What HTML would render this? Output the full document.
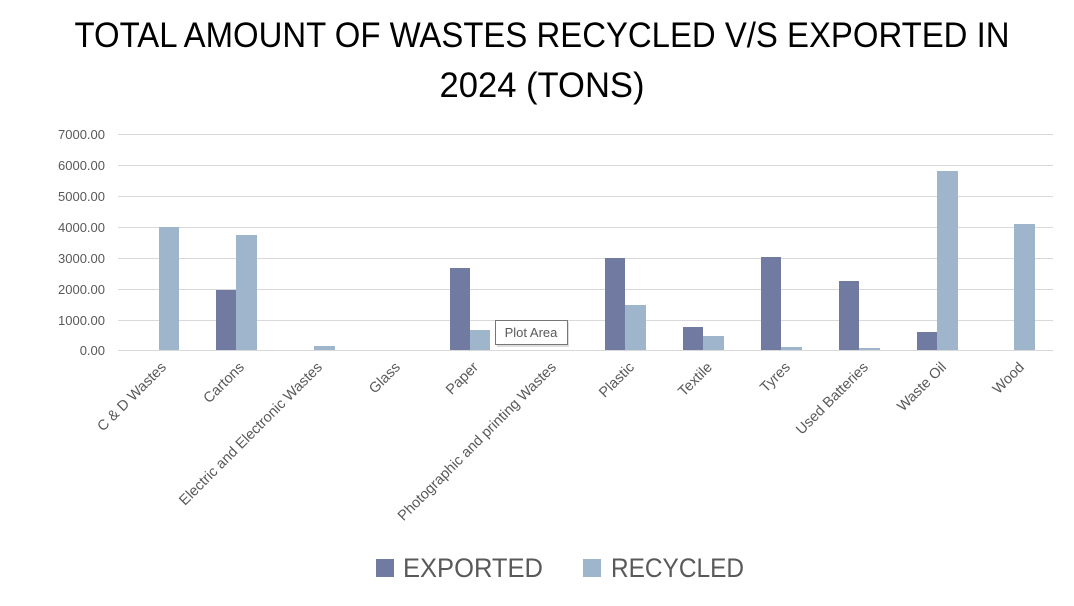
<!DOCTYPE html>
<html><head><meta charset="utf-8"><style>
html,body{margin:0;padding:0;background:#fff;}
svg{display:block;}
</style></head><body>
<svg width="1074" height="606" xmlns="http://www.w3.org/2000/svg" font-family="'Liberation Sans', sans-serif">
<rect width="1074" height="606" fill="#fff"/>
<text x="542" y="47" font-size="35" text-anchor="middle" textLength="935" lengthAdjust="spacingAndGlyphs" fill="#000">TOTAL AMOUNT OF WASTES RECYCLED V/S EXPORTED IN</text>
<text x="542" y="97" font-size="35" text-anchor="middle" textLength="205" lengthAdjust="spacingAndGlyphs" fill="#000">2024 (TONS)</text>
<g stroke="#d9d9d9" stroke-width="1">
<line x1="118" x2="1053" y1="134.5" y2="134.5"/>
<line x1="118" x2="1053" y1="165.5" y2="165.5"/>
<line x1="118" x2="1053" y1="196.5" y2="196.5"/>
<line x1="118" x2="1053" y1="227.5" y2="227.5"/>
<line x1="118" x2="1053" y1="258.5" y2="258.5"/>
<line x1="118" x2="1053" y1="289.5" y2="289.5"/>
<line x1="118" x2="1053" y1="320.5" y2="320.5"/>
<line x1="118" x2="1053" y1="350.5" y2="350.5"/>
</g>
<g font-size="13" fill="#595959" text-anchor="end">
<text x="105" y="139">7000.00</text>
<text x="105" y="170">6000.00</text>
<text x="105" y="201">5000.00</text>
<text x="105" y="232">4000.00</text>
<text x="105" y="263">3000.00</text>
<text x="105" y="294">2000.00</text>
<text x="105" y="325">1000.00</text>
<text x="105" y="355">0.00</text>
</g>
<g fill="#717aa0">
<rect x="216" y="290" width="20" height="60"/>
<rect x="450" y="268" width="20" height="82"/>
<rect x="605" y="258" width="20" height="92"/>
<rect x="683" y="327" width="20" height="23"/>
<rect x="761" y="257" width="20" height="93"/>
<rect x="839" y="281" width="20" height="69"/>
<rect x="917" y="332" width="20" height="18"/>
</g>
<g fill="#9fb5cb">
<rect x="159" y="227" width="20" height="123"/>
<rect x="236" y="235" width="21" height="115"/>
<rect x="314" y="346" width="21" height="4"/>
<rect x="470" y="330" width="20" height="20"/>
<rect x="625" y="305" width="21" height="45"/>
<rect x="703" y="336" width="21" height="14"/>
<rect x="781" y="347" width="21" height="3"/>
<rect x="859" y="348" width="21" height="2"/>
<rect x="937" y="171" width="21" height="179"/>
<rect x="1014" y="224" width="21" height="126"/>
</g>
<g font-size="14.5" fill="#595959" text-anchor="end">
<text transform="translate(167,368) rotate(-45)">C &amp; D  Wastes</text>
<text transform="translate(245,368) rotate(-45)">Cartons</text>
<text transform="translate(323,368) rotate(-45)">Electric and Electronic Wastes</text>
<text transform="translate(401,368) rotate(-45)">Glass</text>
<text transform="translate(479,368) rotate(-45)">Paper</text>
<text transform="translate(557,368) rotate(-45)">Photographic and printing Wastes</text>
<text transform="translate(635,368) rotate(-45)">Plastic</text>
<text transform="translate(713,368) rotate(-45)">Textile</text>
<text transform="translate(791,368) rotate(-45)">Tyres</text>
<text transform="translate(869,368) rotate(-45)">Used Batteries</text>
<text transform="translate(947,368) rotate(-45)">Waste Oil</text>
<text transform="translate(1025,368) rotate(-45)">Wood</text>
</g>
<rect x="497" y="322" width="72" height="25" fill="#bbb" opacity="0.5"/>
<rect x="495.5" y="320.5" width="72" height="24" fill="#fff" stroke="#767676"/>
<text x="531" y="337" font-size="13" fill="#595959" text-anchor="middle">Plot Area</text>
<rect x="376" y="559" width="18" height="18" fill="#717aa0"/>
<text x="403" y="577" font-size="27" fill="#595959" textLength="140" lengthAdjust="spacingAndGlyphs">EXPORTED</text>
<rect x="583" y="559" width="18" height="18" fill="#9fb5cb"/>
<text x="611" y="577" font-size="27" fill="#595959" textLength="133" lengthAdjust="spacingAndGlyphs">RECYCLED</text>
</svg>
</body></html>
